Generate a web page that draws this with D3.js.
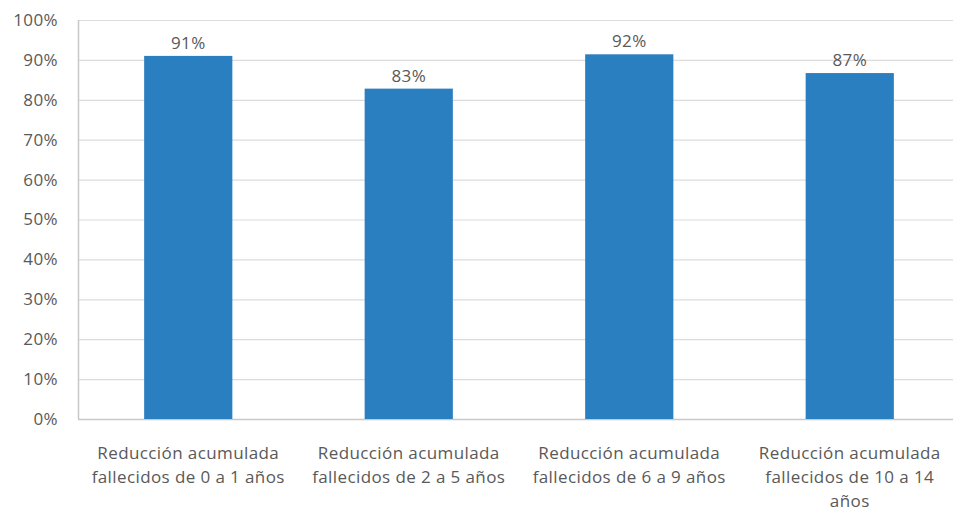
<!DOCTYPE html>
<html>
<head>
<meta charset="utf-8">
<script src="https://cdn.jsdelivr.net/npm/d3@7"></script>
<style>
  body { margin: 0; background: #fff; }
  text { font-family: "Open Sans", sans-serif; fill: #595959; letter-spacing: 0.4px; }
</style>
</head>
<body>
<svg id="chart" width="953" height="511"></svg>
<script>
// data
var categories = ["c0", "c1", "c2", "c3"];
var labelLines = [
  ["Reducción acumulada", "fallecidos de 0 a 1 años"],
  ["Reducción acumulada", "fallecidos de 2 a 5 años"],
  ["Reducción acumulada", "fallecidos de 6 a 9 años"],
  ["Reducción acumulada", "fallecidos de 10 a 14", "años"]
];
var values = [0.91, 0.828, 0.914, 0.867];
var valueLabels = ["91%", "83%", "92%", "87%"];
var yTicks = [0, 0.1, 0.2, 0.3, 0.4, 0.5, 0.6, 0.7, 0.8, 0.9, 1.0];

var svg = d3.select("#chart");

var x = d3.scaleBand()
    .domain(categories)
    .range([78, 960])
    .paddingInner(0.6)
    .paddingOuter(0.3);

var y = d3.scaleLinear()
    .domain([0, 1])
    .range([419, 20]);

//gridlines
svg.append("g")
    .selectAll("line")
    .data(yTicks)
    .enter()
    .append("line")
    .attr("x1", 78)
    .attr("x2", 960)
    .attr("y1", d => y(d) + 0.5)
    .attr("y2", d => y(d) + 0.5)
    .attr("stroke", d => d === 0 ? "#c8c8c8" : "#dcdcdc")
    .attr("stroke-width", d => d === 0 ? 1.5 : 1.2);

// left axis line
svg.append("line")
    .attr("x1", 78.5).attr("x2", 78.5)
    .attr("y1", y(1)).attr("y2", y(0))
    .attr("stroke", "#c8c8c8")
    .attr("stroke-width", 1.5);

// y axis tick labels
var yAxis = d3.axisLeft(y)
    .tickValues(yTicks)
    .tickFormat(d3.format(".0%"))
    .tickSize(0)
    .tickPadding(0);

var gy = svg.append("g")
    .attr("transform", "translate(58,0)")
    .call(yAxis);
gy.select(".domain").remove();
gy.selectAll("text")
    .style("font-family", "'Open Sans', sans-serif")
    .style("font-size", "17px")
    .attr("fill", "#595959");

// bars
svg.append("g")
    .selectAll("rect")
    .data(values)
    .enter()
    .append("rect")
    .attr("x", (d, i) => x(categories[i]))
    .attr("width", x.bandwidth())
    .attr("y", d => y(d))
    .attr("height", d => y(0) - y(d))
    .attr("fill", "#2a7fc0");

// value labels
svg.append("g")
    .selectAll("text")
    .data(values)
    .enter()
    .append("text")
    .attr("x", (d, i) => x(categories[i]) + x.bandwidth() / 2)
    .attr("y", d => y(d) - 7)
    .attr("text-anchor", "middle")
    .style("font-size", "17px")
    .text((d, i) => valueLabels[i]);

// category labels
var cat = svg.append("g")
    .selectAll("text")
    .data(categories)
    .enter()
    .append("text")
    .attr("text-anchor", "middle")
    .style("font-size", "17px");

cat.each(function(c, i) {
    var t = d3.select(this);
    labelLines[i].forEach((line, j) => {
        t.append("tspan")
            .attr("x", x(c) + x.bandwidth() / 2)
            .attr("y", 459 + j * 24)
            .text(line);
    });
});
</script>
</body>
</html>
